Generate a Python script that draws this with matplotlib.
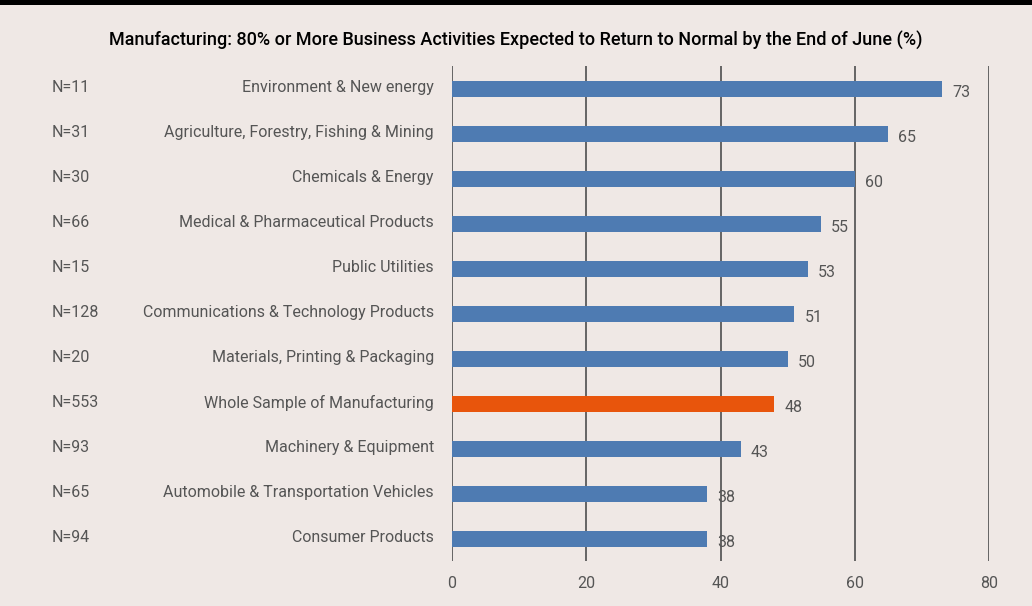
import matplotlib
matplotlib.use("Agg")
import matplotlib.pyplot as plt
from matplotlib.patches import Rectangle

categories = [
    "Environment & New energy",
    "Agriculture, Forestry, Fishing & Mining",
    "Chemicals & Energy",
    "Medical & Pharmaceutical Products",
    "Public Utilities",
    "Communications & Technology Products",
    "Materials, Printing & Packaging",
    "Whole Sample of Manufacturing",
    "Machinery & Equipment",
    "Automobile & Transportation Vehicles",
    "Consumer Products",
]
n_labels = ["N=11", "N=31", "N=30", "N=66", "N=15", "N=128", "N=20", "N=553", "N=93", "N=65", "N=94"]
values = [73, 65, 60, 55, 53, 51, 50, 48, 43, 38, 38]
highlight = "Whole Sample of Manufacturing"
xticks = [0, 20, 40, 60, 80]
title = "Manufacturing: 80% or More Business Activities Expected to Return to Normal by the End of June (%)"

FONT = ["Roboto", "DejaVu Sans"]
plt.rcParams["font.family"] = FONT

BG = "#efe8e5"
BLUE = "#4e7bb2"
ORANGE = "#e8550c"
GREY = "#555555"

fig = plt.figure(figsize=(10.32, 6.06), dpi=100, facecolor=BG)
W, H = 1032, 606
fig.patches.append(Rectangle((0, 1 - 5 / H), 1, 5 / H, transform=fig.transFigure,
                             facecolor="black", edgecolor="none", zorder=0))

ax = fig.add_axes([452 / W, 1 - 561 / H, (989 - 452) / W, (561 - 66) / H])
ax.set_facecolor(BG)
ypos = list(range(len(categories)))
colors = [ORANGE if c == highlight else BLUE for c in categories]
ax.barh(ypos, values, height=0.36, color=colors, zorder=3)
ax.set_xlim(0, 80)
ax.set_ylim(len(categories) - 0.5 - 0.01, -0.5 - 0.01)
ax.set_xticks(xticks)
ax.set_xticklabels([str(t) for t in xticks], fontsize=11.5, color=GREY)
ax.tick_params(axis="x", length=0, pad=11)
ax.set_yticks([])
for s in ax.spines.values():
    s.set_visible(False)
for t in xticks:
    ax.axvline(t, color="#5a5a5a", lw=1.3, zorder=2)

for y, v in zip(ypos, values):
    ax.text(v + 1.5, y + 0.08, str(v), va="center", ha="left", fontsize=11.5, color=GREY)

for y, c, n in zip(ypos, categories, n_labels):
    ax.annotate(c, xy=(0, y), xycoords=("axes fraction", "data"), xytext=(-13, 1),
                textcoords="offset points", ha="right", va="center", fontsize=11.5, color=GREY)
    ax.annotate(n, xy=(52 / W, y), xycoords=("figure fraction", "data"), xytext=(0, 1),
                textcoords="offset points", ha="left", va="center", fontsize=11.5, color=GREY)

fig.text(0.5, 1 - 40 / H, title, ha="center", va="center", fontsize=13,
         color="black", fontweight="medium")

fig.savefig("out.png", dpi=100, facecolor=BG)
